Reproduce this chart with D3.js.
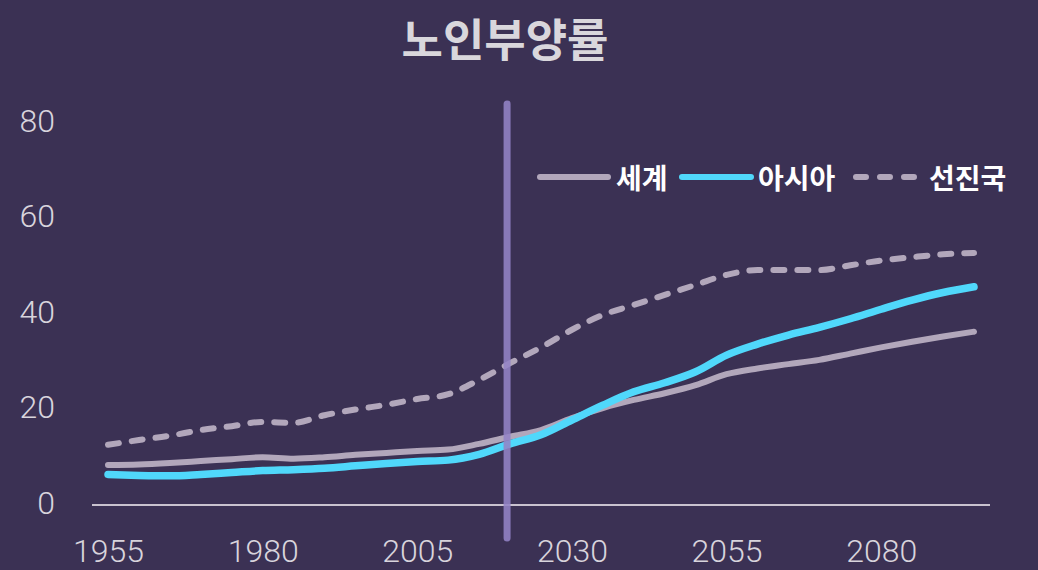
<!DOCTYPE html>
<html>
<head>
<meta charset="utf-8">
<script src="https://cdn.jsdelivr.net/npm/d3@7"></script>
<style>
  html, body { margin: 0; padding: 0; background: #3b3154; }
  svg { display: block; }
</style>
</head>
<body>
<svg id="chart"></svg>
<script>
const years = [1955, 1960, 1965, 1970, 1975, 1980, 1985, 1990, 1995, 2000, 2005, 2010, 2015, 2020,
  2025, 2030, 2035, 2040, 2045, 2050, 2055, 2060, 2065, 2070, 2075, 2080, 2085, 2090, 2095];

const world = [8.4, 8.5, 8.8, 9.2, 9.6, 10.0, 9.7, 10.0, 10.5, 10.9, 11.3, 11.6, 12.8, 14.3,
  15.7, 18.2, 20.3, 22.0, 23.4, 25.1, 27.4, 28.6, 29.5, 30.4, 31.7, 33.0, 34.2, 35.3, 36.3];

const asia = [6.4, 6.2, 6.1, 6.4, 6.8, 7.2, 7.4, 7.7, 8.2, 8.7, 9.1, 9.4, 10.6, 12.8,
  14.7, 17.8, 20.9, 23.7, 25.6, 27.9, 31.4, 33.7, 35.6, 37.2, 39.0, 41.0, 42.9, 44.5, 45.7];

const developed = [12.6, 13.6, 14.5, 15.7, 16.5, 17.4, 17.2, 18.8, 20.0, 21.0, 22.2, 23.2, 26.2, 29.7,
  33.0, 36.7, 39.8, 41.9, 44.0, 46.1, 48.2, 49.2, 49.2, 49.2, 50.2, 51.2, 51.9, 52.5, 52.8];

const seriesNames = ["세계", "아시아", "선진국"];
const xTicks = [1955, 1980, 2005, 2030, 2055, 2080];
const yTicks = [0, 20, 40, 60, 80];
const presentYear = 2020;
const title = "노인부양률";

const width = 1038, height = 570;

const svg = d3.select("#chart")
  .attr("width", width)
  .attr("height", height);

svg.append("rect")
  .attr("width", width)
  .attr("height", height)
  .attr("fill", "#3b3154");

const x = d3.scaleLinear().domain([1955, 2095]).range([108, 974]);
const y = d3.scaleLinear().domain([0, 80]).range([505, 123]);

// title
svg.append("text")
  .text(title)
  .attr("x", 505)
  .attr("y", 57)
  .attr("text-anchor", "middle")
  .style("font-family", "'Noto Sans CJK KR', sans-serif")
  .style("font-weight", 700)
  .style("font-size", "45px")
  .attr("fill", "#d9d7dc");

// y axis labels
svg.append("g")
  .selectAll("text")
  .data(yTicks)
  .enter().append("text")
  .text(d => d)
  .attr("x", 55)
  .attr("y", d => y(d))
  .attr("dy", "0.27em")
  .attr("text-anchor", "end")
  .style("font-family", "Roboto, sans-serif")
  .style("font-weight", 300)
  .style("font-size", "32px")
  .attr("fill", "#d8d4dc");

// x axis: baseline + labels
const xAxis = svg.append("g")
  .attr("class", "x-axis")
  .attr("transform", `translate(0,${y(0)})`)
  .call(d3.axisBottom(x).tickValues(xTicks).tickFormat(d3.format("d")).tickSize(0).tickPadding(34));

xAxis.select(".domain").remove();
xAxis.append("line")
  .attr("x1", 92)
  .attr("x2", 990)
  .attr("stroke", "#c9c2cf")
  .attr("stroke-width", 2);
xAxis.selectAll(".tick text")
  .style("font-family", "Roboto, sans-serif")
  .style("font-weight", 300)
  .style("font-size", "32px")
  .attr("fill", "#d8d4dc");

const line = d3.line()
  .x((d, i) => x(years[i]))
  .y(d => y(d))
  .curve(d3.curveMonotoneX);

const styles = [
  { data: world, color: "#b2a7bb", width: 6, dash: null },
  { data: asia, color: "#50d8fb", width: 7.5, dash: null },
  { data: developed, color: "#b2a7bb", width: 6, dash: "11,13" }
];

svg.append("g")
  .selectAll("path")
  .data([styles[2], styles[0], styles[1]])
  .enter().append("path")
  .attr("d", d => line(d.data))
  .attr("fill", "none")
  .attr("stroke", d => d.color)
  .attr("stroke-width", d => d.width)
  .attr("stroke-linecap", "round")
  .attr("stroke-linejoin", "round")
  .attr("stroke-dasharray", d => d.dash);

// present marker
svg.append("line")
  .attr("x1", x(presentYear) - 3)
  .attr("x2", x(presentYear) - 3)
  .attr("y1", 104)
  .attr("y2", 538)
  .attr("stroke", "#9383c6")
  .attr("stroke-opacity", 0.88)
  .attr("stroke-width", 7)
  .attr("stroke-linecap", "round");

// legend
const legendPos = [
  { x1: 540, x2: 608, tx: 616 },
  { x1: 682, x2: 751, tx: 758 },
  { x1: 856, x2: 916, tx: 929 }
];

const legend = svg.append("g").attr("class", "legend");
legend.selectAll(".legend.tick")
  .data(seriesNames)
  .enter().append("g")
  .attr("class", "legend tick")
  .each(function(d, i) {
    const p = legendPos[i];
    const s = styles[i];
    d3.select(this).append("line")
      .attr("x1", p.x1)
      .attr("x2", p.x2)
      .attr("y1", 177)
      .attr("y2", 177)
      .attr("stroke", s.color)
      .attr("stroke-width", 6)
      .attr("stroke-linecap", "round")
      .attr("stroke-dasharray", s.dash ? "10,14" : null);

    d3.select(this).append("text")
      .text(d)
      .attr("x", p.tx)
      .attr("y", 189)
      .style("font-family", "'Noto Sans CJK KR', sans-serif")
      .style("font-weight", 700)
      .style("font-size", "28px")
      .attr("fill", "#ffffff");
  });
</script>
</body>
</html>
